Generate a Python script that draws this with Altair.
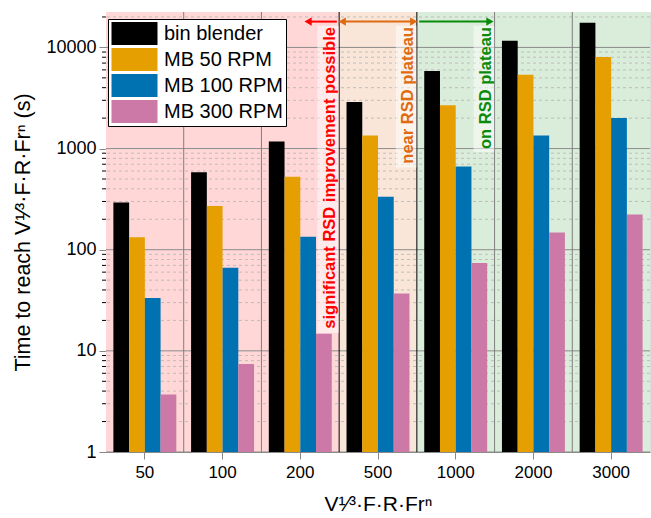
import altair as alt
import pandas as pd

# ---------------- data ----------------
categories = ["50", "100", "200", "500", "1000", "2000", "3000"]
series_names = ["bin blender", "MB 50 RPM", "MB 100 RPM", "MB 300 RPM"]
bin_blender = [293, 583, 1172, 2890, 5850, 11650, 17530]
mb_50 = [133, 271, 526, 1343, 2678, 5375, 8040]
mb_100 = [33.3, 66.4, 134, 333, 664, 1343, 2010]
mb_300 = [3.7, 7.4, 14.8, 37, 73.8, 148, 223]
series_colors = ["#000000", "#E69F00", "#0072B2", "#CC79A7"]

major_ticks = [1, 10, 100, 1000, 10000]
minor_ticks = [m * 10 ** k for k in range(4) for m in range(2, 10)] + [20000]
y_max = 22400

# shaded regions, in category-index units (0..7)
region_start = [0, 3, 4]
region_end = [3, 4, 7]
region_colors = ["#FFD7D7", "#F9E6D8", "#DAECDA"]

separators = [1, 2, 3, 4, 5, 6]
separator_colors = ["#7F7F7F", "#7F7F7F", "#000000", "#000000", "#7F7F7F", "#7F7F7F"]

note_texts = ["significant RSD improvement possible", "near RSD plateau", "on RSD plateau"]
note_colors = ["#FF0000", "#E06A10", "#0A8A0A"]
note_x = [2.88, 3.89, 4.89]
note_y = [15900, 15900, 15900]
box_x = [2.72, 3.73, 4.73]
box_x2 = [2.995, 3.995, 4.995]
box_top = [16400, 16400, 16400]
box_bottom = [15, 650, 920]

arrow_start = [2.62, 3.06, 4.03]
arrow_end = [2.97, 3.94, 4.92]
arrow_y = 18000
left_head_x = [2.60, 3.04]
left_head_colors = ["#FF0000", "#E06A10"]
right_head_x = [3.96, 4.94]
right_head_colors = ["#E06A10", "#0A8A0A"]

FONT = "Liberation Sans"

# ---------------- tables ----------------
all_series = [bin_blender, mb_50, mb_100, mb_300]
bars_df = pd.DataFrame(
    [
        {"category": c, "series": s, "value": vals[i]}
        for s, vals in zip(series_names, all_series)
        for i, c in enumerate(categories)
    ]
)
regions_df = pd.DataFrame({"x": region_start, "x2": region_end, "c": region_colors})
sep_df = pd.DataFrame({"x": separators, "c": separator_colors})
major_df = pd.DataFrame({"y": major_ticks})
minor_df = pd.DataFrame({"y": minor_ticks})
notes_df = pd.DataFrame({"t": note_texts, "c": note_colors, "x": note_x, "y": note_y})
boxes_df = pd.DataFrame({"x": box_x, "x2": box_x2, "y": box_top, "y2": box_bottom})
arrows_df = pd.DataFrame(
    {"x": arrow_start, "x2": arrow_end, "y": [arrow_y] * 3, "c": note_colors}
)
lh_df = pd.DataFrame({"x": left_head_x, "y": [arrow_y] * 2, "c": left_head_colors})
rh_df = pd.DataFrame({"x": right_head_x, "y": [arrow_y] * 2, "c": right_head_colors})

y_scale = alt.Scale(type="log", domain=[1, y_max], nice=False)
q_scale = alt.Scale(domain=[0, 7], nice=False, zero=False)


def qx(field):
    return alt.X(f"{field}:Q", scale=q_scale, axis=None)


def qy(field):
    return alt.Y(f"{field}:Q", scale=y_scale, axis=None)


bg = alt.Chart(regions_df).mark_rect().encode(
    x=qx("x"), x2="x2", fill=alt.Fill("c:N", scale=None)
)

grid_minor = alt.Chart(minor_df).mark_rule(
    color="#BDBDBD", strokeDash=[3, 3], strokeWidth=1
).encode(y=qy("y"))

# short minor tick marks just outside the left axis line
minor_tick_marks = alt.Chart(minor_df).mark_rule(color="black", strokeWidth=1).encode(
    y=qy("y"), x=alt.value(-4), x2=alt.value(0)
)

grid_major = alt.Chart(major_df).mark_rule(color="#8C8C8C", strokeWidth=1).encode(
    y=qy("y")
)

seps = alt.Chart(sep_df).mark_rule(strokeWidth=1).encode(
    x=qx("x"), stroke=alt.Stroke("c:N", scale=None)
)

bars = alt.Chart(bars_df).mark_bar().encode(
    x=alt.X(
        "category:N",
        sort=categories,
        scale=alt.Scale(paddingInner=0.19, paddingOuter=0.095),
        axis=alt.Axis(
            title="V¹⁄³·F·R·Frⁿ",
            labelAngle=0,
            tickSize=7,
            labelPadding=5,
            titlePadding=13,
            labelFontSize=17,
            titleFontSize=21,
            titleFontWeight="normal",
        ),
    ),
    xOffset=alt.XOffset("series:N", sort=series_names, scale=alt.Scale(paddingInner=0, paddingOuter=0)),
    y=alt.Y(
        "value:Q",
        scale=y_scale,
        stack=None,
        axis=alt.Axis(
            orient="left",
            title="Time to reach V¹⁄³·F·R·Frⁿ (s)",
            values=major_ticks,
            format="d",
            tickSize=7,
            labelPadding=3,
            titlePadding=11,
            labelFontSize=18,
            titleFontSize=21.5,
            titleFontWeight="normal",
            grid=False,
        ),
    ),
    color=alt.Color(
        "series:N",
        sort=series_names,
        scale=alt.Scale(domain=series_names, range=series_colors),
        legend=alt.Legend(
            title=None,
            orient="none",
            legendX=2,
            legendY=7,
            symbolType="M-2,-1L2,-1L2,1L-2,1Z",
            symbolSize=529,
            symbolStrokeWidth=0,
            symbolOffset=12,
            labelFontSize=20,
            labelFont=FONT,
            labelColor="black",
            strokeColor="black",
            fillColor="white",
            padding=3,
            rowPadding=3,
            labelOffset=18,
        ),
    ),
)

boxes = alt.Chart(boxes_df).mark_rect(color="white", opacity=0.5).encode(
    x=qx("x"), x2="x2", y=qy("y"), y2="y2"
)

notes = alt.Chart(notes_df).mark_text(
    angle=270, align="right", baseline="middle", fontSize=16.5, fontWeight="bold", font=FONT
).encode(x=qx("x"), y=qy("y"), text="t:N", fill=alt.Fill("c:N", scale=None))

arrows = alt.Chart(arrows_df).mark_rule(strokeWidth=2).encode(
    x=qx("x"), x2="x2", y=qy("y"), stroke=alt.Stroke("c:N", scale=None)
)
lheads = alt.Chart(lh_df).mark_point(shape="triangle-left", filled=True, size=70, opacity=1).encode(
    x=qx("x"), y=qy("y"), fill=alt.Fill("c:N", scale=None)
)
rheads = alt.Chart(rh_df).mark_point(shape="triangle-right", filled=True, size=70, opacity=1).encode(
    x=qx("x"), y=qy("y"), fill=alt.Fill("c:N", scale=None)
)

chart = (
    alt.layer(
        bg, grid_minor, grid_major, seps, bars, boxes, notes, arrows, lheads, rheads,
        minor_tick_marks,
    )
    .resolve_scale(x="independent")
    .resolve_axis(y="independent")
    .properties(
        width=651,
        height=518,
        autosize=alt.AutoSizeParams(type="fit", contains="padding"),
        padding={"left": 12, "top": 11, "right": 0, "bottom": 4},
    )
    .configure_view(stroke="black", strokeWidth=1)
    .configure_axis(
        labelFont=FONT,
        titleFont=FONT,
        labelColor="black",
        titleColor="black",
        domainColor="black",
        tickColor="black",
        titleFontWeight="normal",
        domainWidth=1,
    )
    .configure(background="white")
)

chart.save("out.html", embed_options={"renderer": "svg", "actions": False})
